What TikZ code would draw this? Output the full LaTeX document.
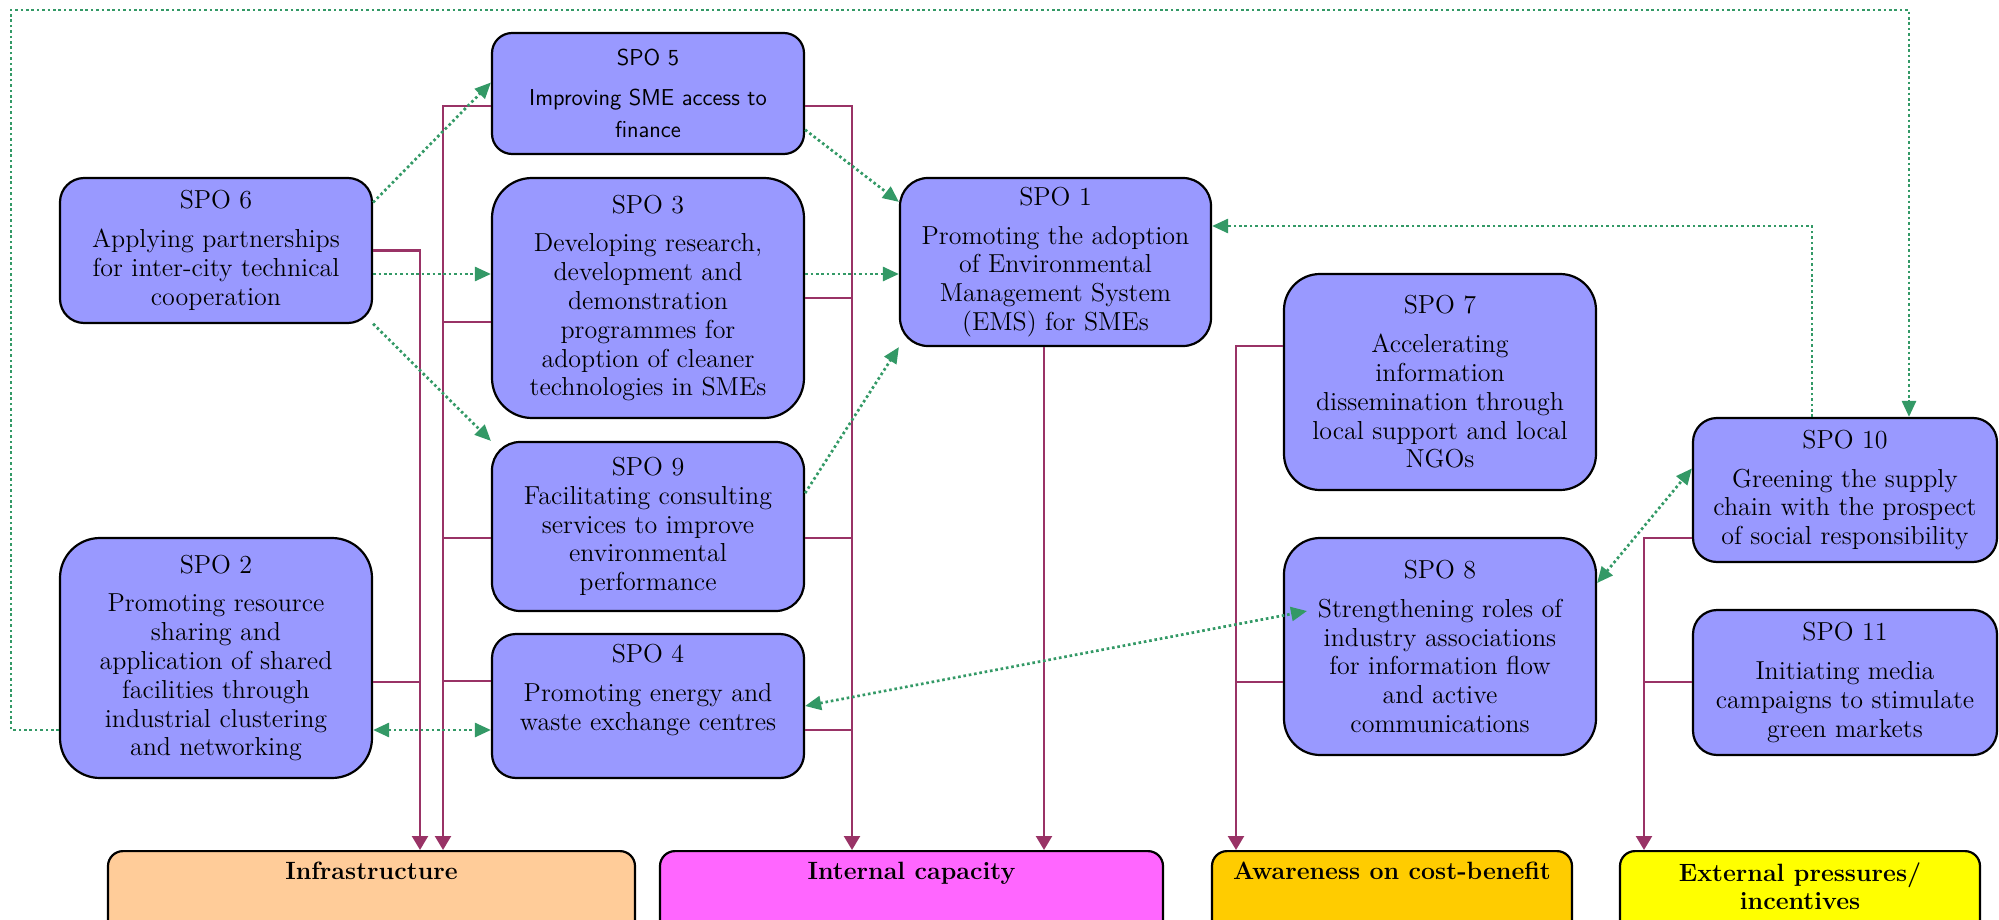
\documentclass[tikz,border=0pt]{standalone}
\usetikzlibrary{arrows.meta,calc}
\definecolor{spofill}{HTML}{9999FF}
\definecolor{infrafill}{HTML}{FFCC99}
\definecolor{intfill}{HTML}{FF66FF}
\definecolor{awarefill}{HTML}{FFCC00}
\definecolor{extfill}{HTML}{FFFF00}
\definecolor{plumline}{HTML}{993366}
\definecolor{greenline}{HTML}{339966}
\newcommand\spofont{\fontsize{13}{14.4}\selectfont}
\newcommand\mkbox[7]{%
  \pgfmathsetmacro\bw{(#5-#3)*0.5}%
  \pgfmathsetmacro\bh{(#6-#4)*0.5}%
  \pgfmathsetmacro\br{min(\bw,\bh)/6}%
  \pgfmathsetmacro\bx{(#3+#5)/2}%
  \pgfmathsetmacro\by{(#4+#6)/2}%
  \node[spobox,#1,minimum width=\bw pt,minimum height=\bh pt,rounded corners=\br pt] (#2) at (\bx,\by) {#7};%
}
\begin{document}
\begin{tikzpicture}[x=0.5pt,y=-0.5pt,
  spobox/.style={draw=black,line width=1.1pt,fill=spofill,align=center,inner sep=0pt,font=\spofont},
  catbox/.style={draw=black,line width=1.1pt,inner sep=0pt,rounded corners=7.5pt,minimum height=60pt,anchor=north},
  catlabel/.style={font=\fontsize{12.5}{14}\selectfont\bfseries,align=center,inner sep=0pt,anchor=north},
  mline/.style={draw=plumline,line width=1.2pt},
  marrow/.style={mline,-{Triangle[length=7pt,width=8pt]}},
  gline/.style={draw=greenline,line width=1.35pt,dash pattern=on 1.3pt off 1.4pt},
  garrow/.style={gline,-{Triangle[length=8pt,width=7pt]}},
  gboth/.style={gline,{Triangle[length=8pt,width=7pt]}-{Triangle[length=8pt,width=7pt]}},
]
\useasboundingbox (0,0) rectangle (1999,920);

% SPO boxes
\mkbox{}{spo6}{60}{178}{372}{323}{SPO 6\\[5pt]Applying partnerships\\for inter-city technical\\cooperation}
\mkbox{font=\sffamily\fontsize{11.5}{16}\selectfont}{spo5}{492}{33}{804}{154}{SPO 5\\[4pt]Improving SME access to\\finance}
\mkbox{}{spo3}{492}{178}{804}{418}{SPO 3\\[5pt]Developing research,\\development and\\demonstration\\programmes for\\adoption of cleaner\\technologies in SMEs}
\mkbox{}{spo9}{492}{442}{804}{611}{SPO 9\\Facilitating consulting\\services to improve\\environmental\\performance}
\mkbox{}{spo4}{492}{634}{804}{778}{SPO 4\\[5pt]Promoting energy and\\waste exchange centres\\ \strut}
\mkbox{}{spo2}{60}{538}{372}{778}{SPO 2\\[5pt]Promoting resource\\sharing and\\application of shared\\facilities through\\industrial clustering\\and networking}
\mkbox{}{spo1}{900}{178}{1211}{346}{SPO 1\\[5pt]Promoting the adoption\\of Environmental\\Management System\\(EMS) for SMEs}
\mkbox{}{spo7}{1284}{274}{1596}{490}{SPO 7\\[5pt]Accelerating\\information\\dissemination through\\local support and local\\NGOs}
\mkbox{}{spo8}{1284}{538}{1596}{755}{SPO 8\\[5pt]Strengthening roles of\\industry associations\\for information flow\\and active\\communications}
\mkbox{}{spo10}{1693}{418}{1997}{562}{SPO 10\\[5pt]Greening the supply\\chain with the prospect\\of social responsibility}
\mkbox{}{spo11}{1693}{610}{1997}{755}{SPO 11\\[5pt]Initiating media\\campaigns to stimulate\\green markets}

% category boxes
\node[catbox,fill=infrafill,minimum width=263.5pt] (infra) at (371.5,850) {};
\node[catbox,fill=intfill,minimum width=251.5pt] (intcap) at (911.5,850) {};
\node[catbox,fill=awarefill,minimum width=180pt] (aware) at (1392,850) {};
\node[catbox,fill=extfill,minimum width=180pt] (ext) at (1800,850) {};
\node[catlabel] (infraT) at ($(infra.north)+(0,12)$) {Infrastructure};
\node[catlabel] (intcapT) at ($(intcap.north)+(0,12)$) {Internal capacity};
\node[catlabel] (awareT) at ($(aware.north)+(0,12)$) {Awareness on cost-benefit};
\node[catlabel] (extT) at ($(ext.north)+(0,12)$) {External pressures/\\incentives};

% helper coordinates
\coordinate (bus1) at (420,0);
\coordinate (bus2) at (443,0);
\coordinate (bus3) at (852,0);
\coordinate (bus4) at (1236,0);
\coordinate (bus5) at (1644,0);
\coordinate (col1) at (1044,0);
\coordinate (v11) at (11,0);
\coordinate (v1812) at (1812,0);
\coordinate (v1909) at (1909,0);
\coordinate (h10) at (0,10);
\coordinate (h106) at (0,106);
\coordinate (h226) at (0,226);
\coordinate (h274) at (0,274);
\coordinate (h322) at (0,322);
\coordinate (h346) at (0,346);
\coordinate (h538) at (0,538);
\coordinate (h681) at (0,681);
\coordinate (h682) at (0,682);
\coordinate (h730) at (0,730);
\coordinate (g8in) at (1307,611);

% plum connectors
\draw[marrow] (spo6.east) -| (bus1 |- infra.north);
\draw[mline] (spo2.east |- h682) -- (bus1 |- h682);
\draw[marrow] (spo5.west |- h106) -| (bus2 |- infra.north);
\draw[mline] (spo3.west |- h322) -- (bus2 |- h322);
\draw[mline] (spo9.west |- h538) -- (bus2 |- h538);
\draw[mline] (spo4.west |- h681) -- (bus2 |- h681);
\draw[marrow] (spo5.east |- h106) -| (bus3 |- intcap.north);
\draw[mline] (spo3.east) -- (bus3 |- spo3.east);
\draw[mline] (spo9.east |- h538) -- (bus3 |- h538);
\draw[mline] (spo4.east |- h730) -- (bus3 |- h730);
\draw[marrow] (col1 |- spo1.south) -- (col1 |- intcap.north);
\draw[marrow] (spo7.west |- h346) -| (bus4 |- aware.north);
\draw[mline] (spo8.west |- h682) -- (bus4 |- h682);
\draw[marrow] (spo10.west |- h538) -| (bus5 |- ext.north);
\draw[mline] (spo11.west |- h682) -- (bus5 |- h682);

% green dotted connectors
\draw[garrow] (spo6.17) -- (spo5.176);
\draw[garrow] (spo6.east |- h274) -- (spo3.west |- h274);
\draw[garrow] (spo6.-25) -- (spo9.north west);
\draw[garrow] (spo5.-13) -- (spo1.159);
\draw[garrow] (spo3.east |- h274) -- (spo1.west |- h274);
\draw[garrow] (spo9.12) -- (spo1.south west);
\draw[garrow] (v1812 |- spo10.north) |- (spo1.east |- h226);
\draw[garrow] (spo2.west |- h730) -| (v11 |- h10) -| (v1909 |- spo10.north);
\draw[gboth] (spo2.east |- h730) -- (spo4.west |- h730);
\draw[gboth] (spo4.east) -- (g8in);
\draw[gboth] (spo8.22) -- (spo10.172);
\end{tikzpicture}
\end{document}
